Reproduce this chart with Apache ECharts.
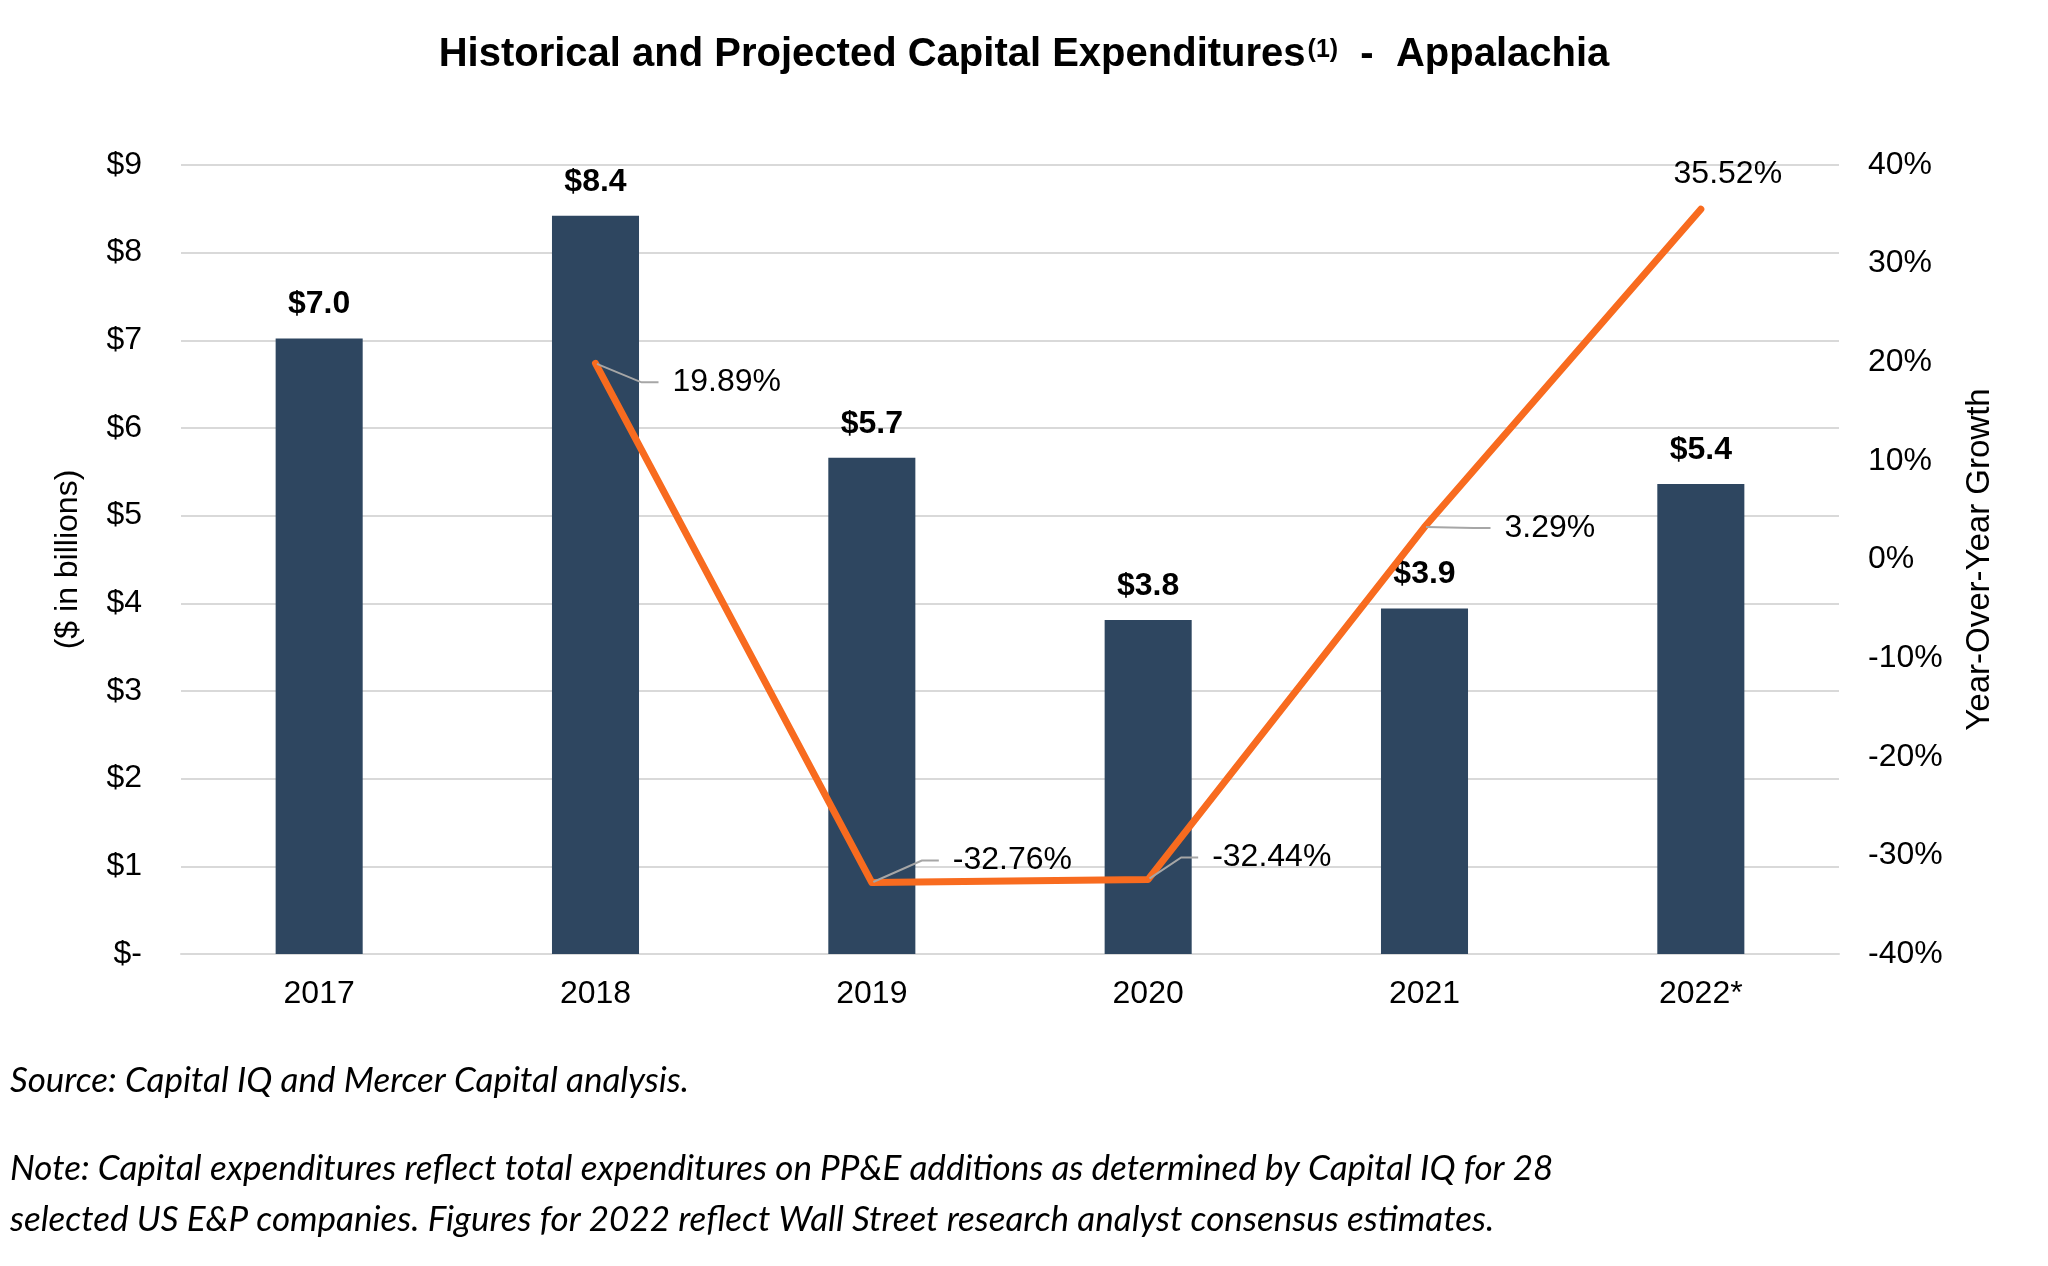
<!DOCTYPE html>
<html>
<head>
<meta charset="utf-8">
<script src="https://cdn.jsdelivr.net/npm/echarts@6/dist/echarts.min.js"></script>
<style>
html, body { margin: 0; padding: 0; background: #ffffff; }
#chart { width: 2048px; height: 1266px; }
</style>
</head>
<body>
<div id="chart"></div>
<script>
// ---------------- Data ----------------
const categories = ['2017', '2018', '2019', '2020', '2021', '2022*'];
const capexBillions = [7.02, 8.42, 5.66, 3.81, 3.94, 5.36];
const yoyGrowthPct = [null, 19.89, -32.76, -32.44, 3.29, 35.52];
const leftTickLabels = ['$-', '$1', '$2', '$3', '$4', '$5', '$6', '$7', '$8', '$9'];
const rightTickLabels = ['-40%', '-30%', '-20%', '-10%', '0%', '10%', '20%', '30%', '40%'];

// ---------------- Styling ----------------
const FONT = "'Liberation Sans', Arial, Helvetica, sans-serif";
const NOTE_FONT = 'italic 35px Lato, "Open Sans", sans-serif';
const BAR_COLOR = '#2E4660';
const LINE_COLOR = '#F86B1F';
const GRID_COLOR = '#D9D9D9';

// label placement of growth labels relative to their point (left-middle of label box)
const growthLabelPlacement = [
  null,
  { dx: 63, dy: 19, align: 'left' },
  { dx: 67, dy: -22, align: 'left' },
  { dx: 50, dy: -22, align: 'left' },
  { dx: 66, dy: 1, align: 'left' },
  { dx: 20, dy: -35, align: 'center' }
];

const chart = echarts.init(document.getElementById('chart'), null, { renderer: 'canvas' });

const lineData = yoyGrowthPct.map(function (v, i) {
  if (v === null) return null;
  if (growthLabelPlacement[i] && growthLabelPlacement[i].align === 'center') {
    return { value: v, labelLine: { show: false } };
  }
  return v;
});

const option = {
  animation: false,
  backgroundColor: '#ffffff',
  textStyle: { fontFamily: FONT, color: '#000' },
  title: {
    text: '{m|Historical and Projected Capital Expenditures}{s|(1)}{m|  -  Appalachia}',
    left: 'center',
    top: 28,
    textStyle: {
      rich: {
        m: { fontFamily: FONT, fontSize: 40, fontWeight: 'bold', color: '#000', lineHeight: 44 },
        s: { fontFamily: FONT, fontSize: 25, fontWeight: 'bold', color: '#000', verticalAlign: 'middle', padding: [0, 0, 9, 2] }
      }
    }
  },
  grid: { left: 181, right: 209, top: 165, bottom: 312, containLabel: false },
  xAxis: {
    type: 'category',
    data: categories,
    axisLine: { show: true, lineStyle: { color: GRID_COLOR, width: 2 } },
    axisTick: { show: false },
    axisLabel: { fontFamily: FONT, fontSize: 32, color: '#000', margin: 24 }
  },
  yAxis: [
    {
      type: 'value',
      min: 0, max: 9, interval: 1,
      name: '($ in billions)',
      nameLocation: 'middle',
      nameRotate: 90,
      nameGap: 97,
      nameTextStyle: { fontFamily: FONT, fontSize: 32, color: '#000' },
      axisLine: { show: false },
      axisTick: { show: false },
      splitLine: { show: true, lineStyle: { color: GRID_COLOR, width: 2 } },
      axisLabel: {
        fontFamily: FONT, fontSize: 32, color: '#000', margin: 39,
        formatter: function (v) { return leftTickLabels[Math.round(v)]; }
      }
    },
    {
      type: 'value',
      min: -40, max: 40, interval: 10,
      name: 'Year-Over-Year Growth',
      nameLocation: 'middle',
      nameRotate: 90,
      nameGap: 124,
      nameTextStyle: { fontFamily: FONT, fontSize: 33, color: '#000' },
      axisLine: { show: false },
      axisTick: { show: false },
      splitLine: { show: false },
      axisLabel: {
        fontFamily: FONT, fontSize: 32, color: '#000', margin: 29,
        formatter: function (v) { return rightTickLabels[Math.round((v + 40) / 10)]; }
      }
    }
  ],
  series: [
    {
      type: 'bar',
      name: 'Capex',
      data: capexBillions,
      yAxisIndex: 0,
      barWidth: '31.5%',
      itemStyle: { color: BAR_COLOR },
      label: {
        show: true,
        position: 'top',
        distance: 18,
        fontFamily: FONT,
        fontSize: 32,
        fontWeight: 'bold',
        color: '#000',
        formatter: function (p) { return '$' + p.value.toFixed(1); }
      },
      z: 2
    },
    {
      type: 'line',
      name: 'YoY Growth',
      data: lineData,
      yAxisIndex: 1,
      connectNulls: false,
      showSymbol: true,
      symbol: 'circle',
      symbolSize: 3,
      itemStyle: { color: LINE_COLOR },
      lineStyle: { color: LINE_COLOR, width: 7, cap: 'round', join: 'round' },
      label: {
        show: true,
        position: 'right',
        fontFamily: FONT,
        fontSize: 32,
        color: '#000',
        backgroundColor: 'rgba(255,255,255,0)',
        padding: [0, 0, 0, 14],
        formatter: function (p) { return p.value.toFixed(2) + '%'; }
      },
      labelLine: {
        show: true,
        length2: 17,
        smooth: false,
        lineStyle: { color: '#A6A6A6', width: 2 }
      },
      labelLayout: function (params) {
        const pl = growthLabelPlacement[params.dataIndex];
        if (!pl) return {};
        const cx = params.rect.x + params.rect.width / 2;
        const cy = params.rect.y + params.rect.height / 2;
        return { x: cx + pl.dx, y: cy + pl.dy, align: pl.align, verticalAlign: 'middle' };
      },
      z: 5
    }
  ],
  graphic: [
    {
      type: 'text',
      left: 10,
      top: 1063,
      style: {
        text: 'Source: Capital IQ and Mercer Capital analysis.',
        font: NOTE_FONT,
        fill: '#000'
      }
    },
    {
      type: 'text',
      left: 10,
      top: 1151,
      style: {
        text: 'Note: Capital expenditures reflect total expenditures on PP&E additions as determined by Capital IQ for 28',
        font: NOTE_FONT,
        fill: '#000'
      }
    },
    {
      type: 'text',
      left: 10,
      top: 1202,
      style: {
        text: 'selected US E&P companies. Figures for 2022 reflect Wall Street research analyst consensus estimates.',
        font: NOTE_FONT,
        fill: '#000'
      }
    }
  ]
};

chart.setOption(option);
</script>
</body>
</html>
